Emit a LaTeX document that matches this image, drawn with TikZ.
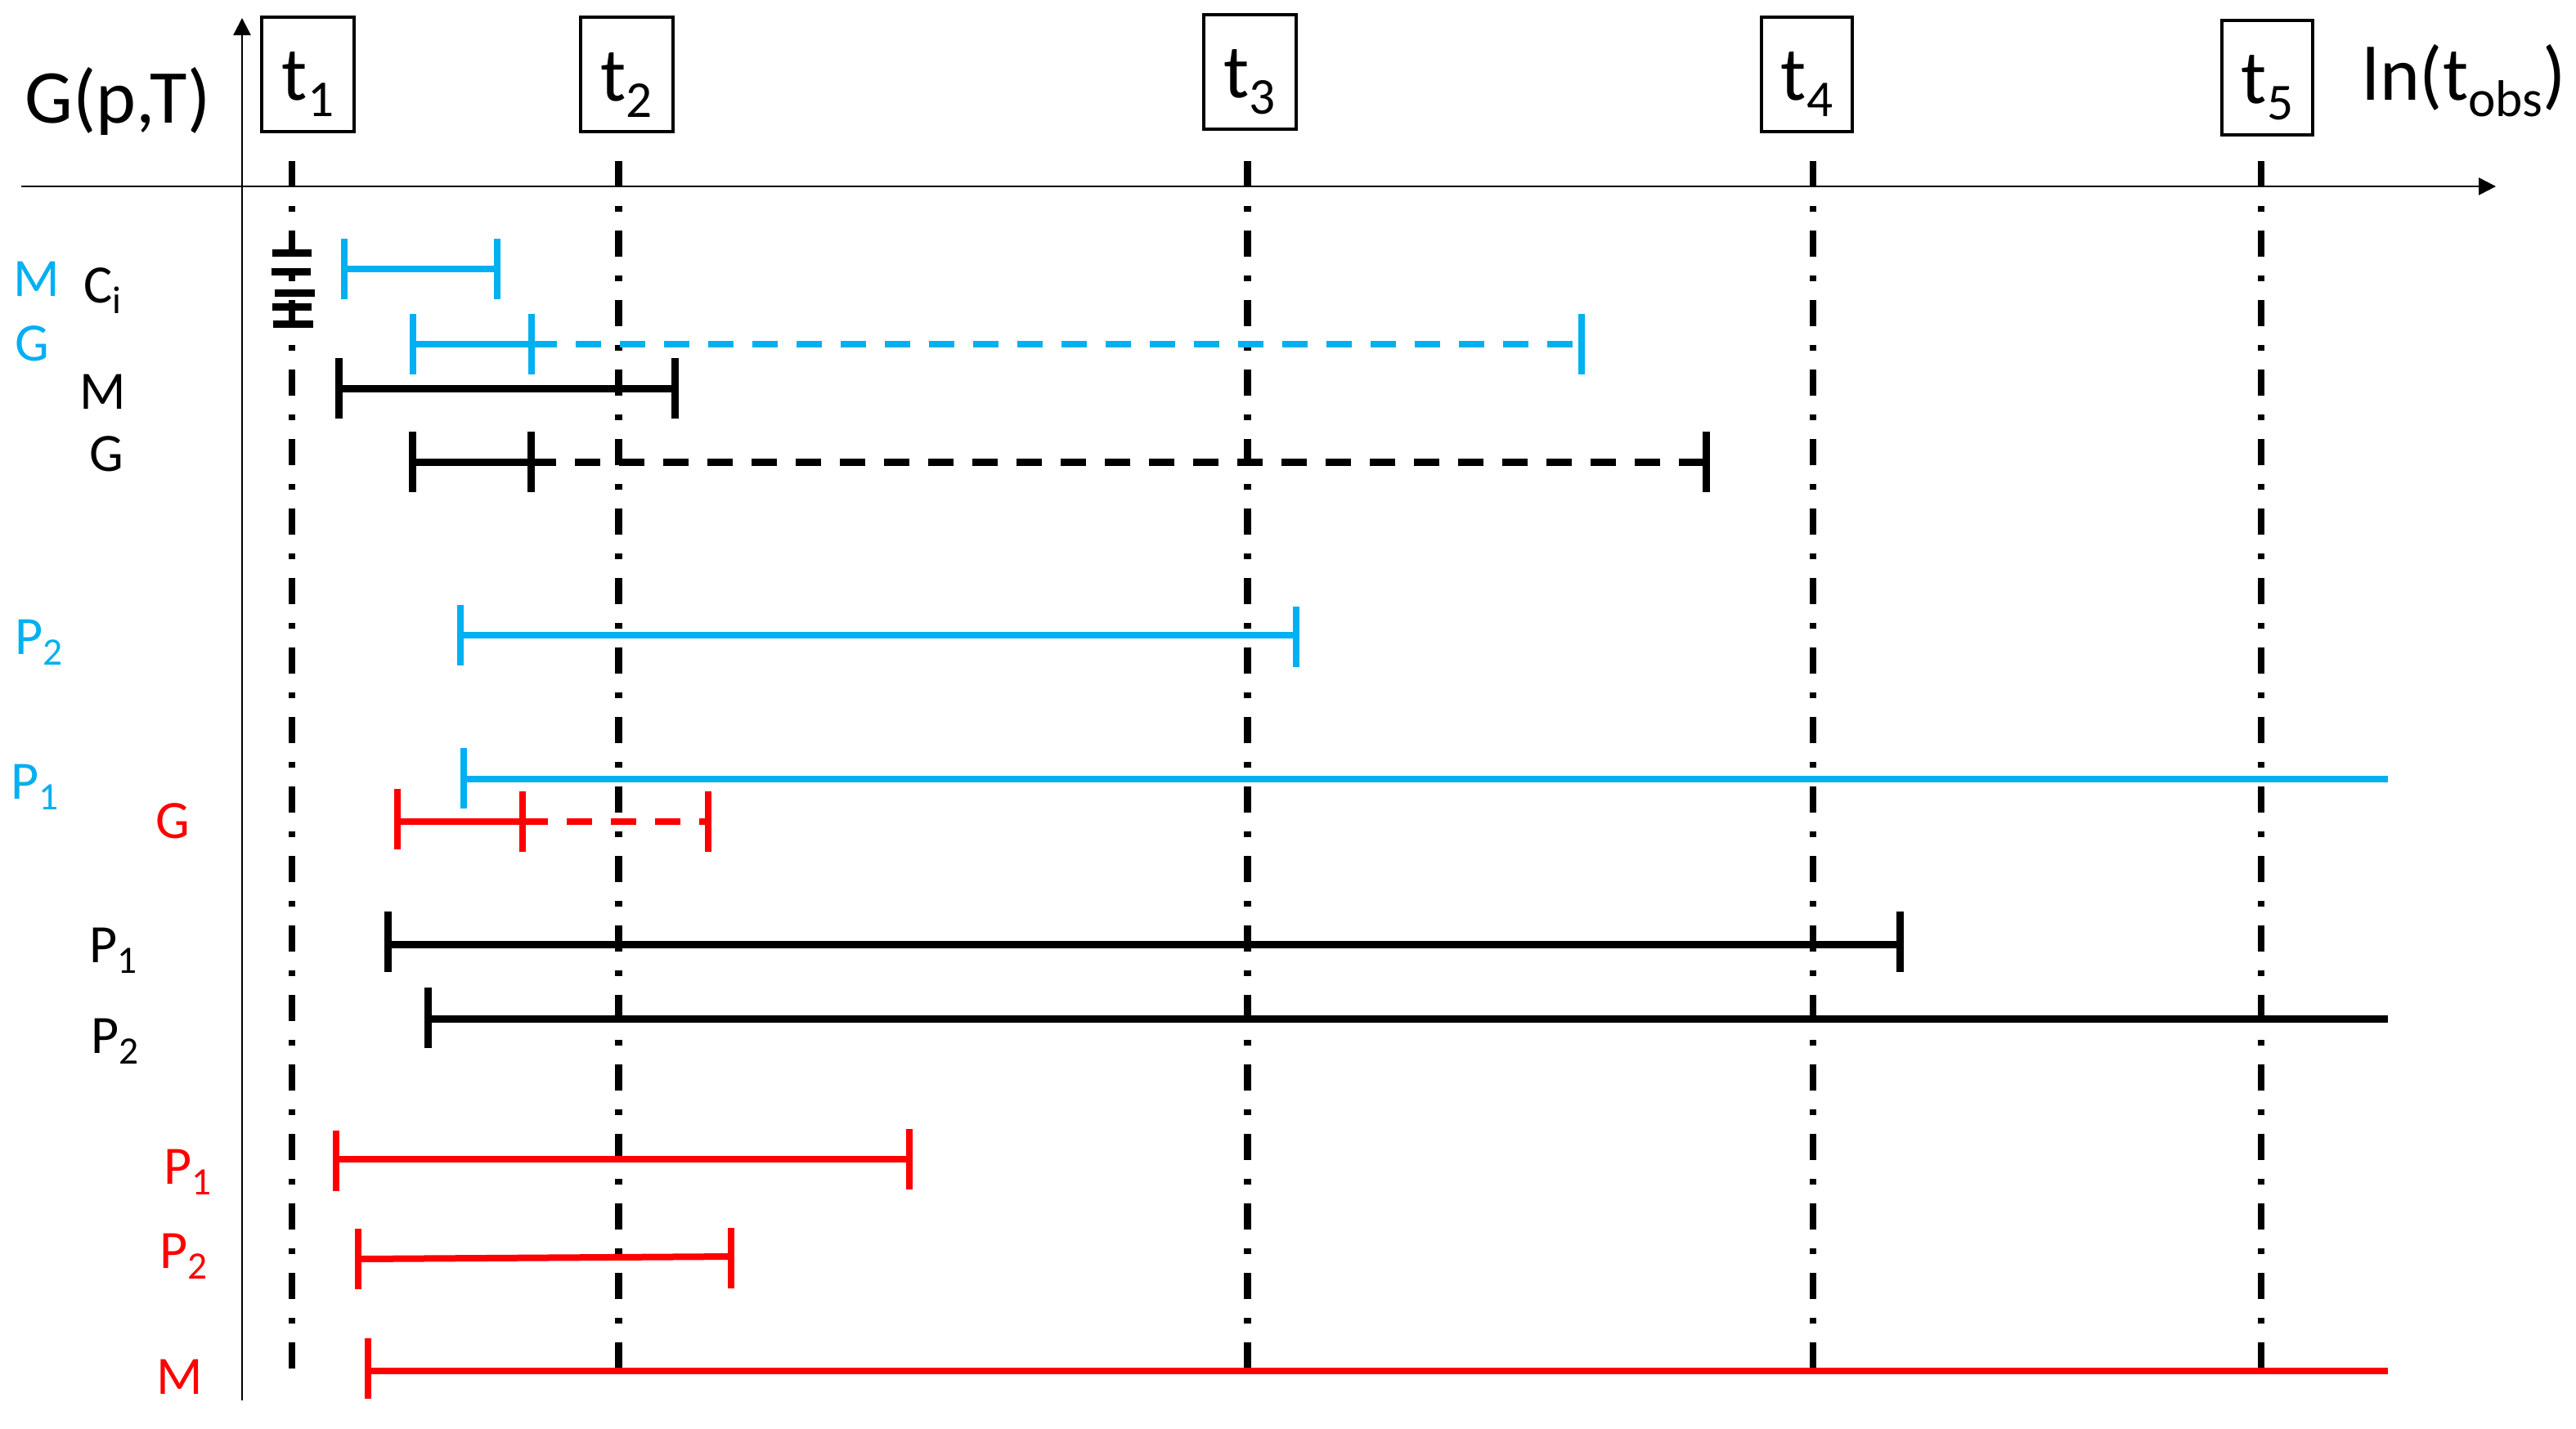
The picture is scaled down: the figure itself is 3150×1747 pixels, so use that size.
\documentclass[tikz,border=0pt]{standalone}
\usepackage{fontspec}
\setmainfont{Carlito}
\usetikzlibrary{arrows.meta}
\definecolor{cy}{HTML}{00B0F0}
\definecolor{rd}{HTML}{FF0000}
\newcommand\tsub[1]{\raisebox{-5.7pt}{\fontsize{18pt}{18pt}\selectfont #1}}
\newcommand\lsub[1]{\raisebox{-3.7pt}{\fontsize{13.5pt}{13.5pt}\selectfont #1}}
\newcommand\ecap[3]{\draw[#1] (#2,{#3-37}) -- (#2,{#3+37});}
\begin{document}
\begin{tikzpicture}[x=0.1mm,y=-0.1mm,
  big/.style={inner sep=0pt, font=\fontsize{26.5pt}{30pt}\selectfont},
  lab/.style={inner sep=0pt, anchor=base west, font=\fontsize{18.8pt}{22pt}\selectfont},
  tbox/.style={draw, line width=0.4mm, inner sep=0pt, minimum width=11.3mm, minimum height=14mm},
  axis/.style={line width=0.25mm, -{Triangle[length=2.1mm,width=2.1mm]}},
  gridl/.style={line width=0.85mm, dash pattern=on 3.2mm off 2.3mm on 0.7mm off 2.3mm},
  ivc/.style={cy, line width=0.8mm},
  ivk/.style={black, line width=0.9mm},
  ivr/.style={rd, line width=0.8mm},
  dsh/.style={dash pattern=on 3.1mm off 2.3mm},
  tinybar/.style={black, line width=0.9mm},
]
\useasboundingbox (0,0) rectangle (3150,1747);

% axes
\draw[axis] (26,228) -- (3052,228);
\draw[axis] (296,1713) -- (296,22);

% title texts
\node[big, anchor=base west] (gpt) at (30,150) {G(p,T)};
\node[big, anchor=base west] (lnt) at (2888,122) {ln(t\tsub{obs})};

% time boxes
\node[tbox] (b1) at (376.5,91) {};
\node[tbox] (b2) at (766,91) {};
\node[tbox] (b3) at (1528,87.5) {};
\node[tbox, minimum width=11.1mm] (b4) at (2209.5,91) {};
\node[tbox, minimum width=11.1mm] (b5) at (2772.5,94.5) {};
\node[big, anchor=base] (l1) at (376.5,122) {t\tsub{1}};
\node[big, anchor=base] (l2) at (766,123) {t\tsub{2}};
\node[big, anchor=base] (l3) at (1528,119) {t\tsub{3}};
\node[big, anchor=base] (l4) at (2209.5,122) {t\tsub{4}};
\node[big, anchor=base] (l5) at (2772.5,126) {t\tsub{5}};

% dash-dot time lines
\draw[gridl] (357,197) -- (357,1678);
\draw[gridl] (756.5,197) -- (756.5,1678);
\draw[gridl] (1525.5,197) -- (1525.5,1678);
\draw[gridl] (2217,197) -- (2217,1678);
\draw[gridl] (2765,197) -- (2765,1678);

% tiny bars at t1
\draw[tinybar] (333,309.5) -- (381,309.5);
\draw[tinybar] (332,332.5) -- (380,332.5);
\draw[tinybar] (336,358.5) -- (385,358.5);
\draw[tinybar] (333,375.5) -- (381,375.5);
\draw[tinybar] (334,396) -- (383,396);

% left labels
\node[lab, text=cy] (lbMc) at (16,362) {M};
\node[lab] (lbCi) at (102,370) {C\lsub{i}};
\node[lab, text=cy] (lbGc) at (18,441) {G};
\node[lab] (lbMk) at (97,500) {M};
\node[lab] (lbGk) at (109,576) {G};
\node[lab, text=cy] (lbP2c) at (18,800) {P\lsub{2}};
\node[lab, text=cy] (lbP1c) at (12.5,977) {P\lsub{1}};
\node[lab, text=rd] (lbGr) at (190,1025) {G};
\node[lab] (lbP1k) at (109,1177) {P\lsub{1}};
\node[lab] (lbP2k) at (111,1288) {P\lsub{2}};
\node[lab, text=rd] (lbP1r) at (200,1448) {P\lsub{1}};
\node[lab, text=rd] (lbP2r) at (195,1551) {P\lsub{2}};
\node[lab, text=rd] (lbMr) at (191,1705) {M};

% cyan Ci row
\draw[ivc] (421,329) -- (608,329);
\ecap{ivc}{421}{329} \ecap{ivc}{608}{329}
% cyan G row
\draw[ivc] (505,421) -- (650,421);
\draw[ivc, dsh] (650,421) -- (1934,421);
\ecap{ivc}{505}{421} \ecap{ivc}{650}{421} \ecap{ivc}{1934}{421}
% black M row
\draw[ivk] (414,475) -- (825,475);
\ecap{ivk}{414}{475} \ecap{ivk}{825}{475}
% black G row
\draw[ivk] (504,565) -- (649,565);
\draw[ivk, dsh] (649,565) -- (2086,565);
\ecap{ivk}{504}{565} \ecap{ivk}{649}{565} \ecap{ivk}{2086}{565}
% cyan P2
\draw[ivc] (563,777) -- (1585,777);
\ecap{ivc}{563}{777} \ecap{ivc}{1585}{779}
% cyan P1
\draw[ivc] (567,953) -- (2920,953);
\ecap{ivc}{567}{952}
% red G
\draw[ivr] (486,1005) -- (639,1005);
\draw[ivr, dsh] (639,1005) -- (866,1005);
\ecap{ivr}{486}{1002} \ecap{ivr}{639}{1005} \ecap{ivr}{866}{1005}
% black P1
\draw[ivk] (474,1155) -- (2323,1155);
\ecap{ivk}{474}{1152} \ecap{ivk}{2323}{1152}
% black P2
\draw[ivk] (523,1246) -- (2920,1246);
\ecap{ivk}{523}{1245}
% red P1
\draw[ivr] (411,1418) -- (1112,1418);
\ecap{ivr}{411}{1420} \ecap{ivr}{1112}{1418}
% red P2
\draw[ivr] (438,1540) -- (894,1537);
\ecap{ivr}{438}{1540} \ecap{ivr}{894}{1539}
% red M
\draw[ivr] (450,1677) -- (2920,1677);
\ecap{ivr}{450}{1674}
\end{tikzpicture}
\end{document}
